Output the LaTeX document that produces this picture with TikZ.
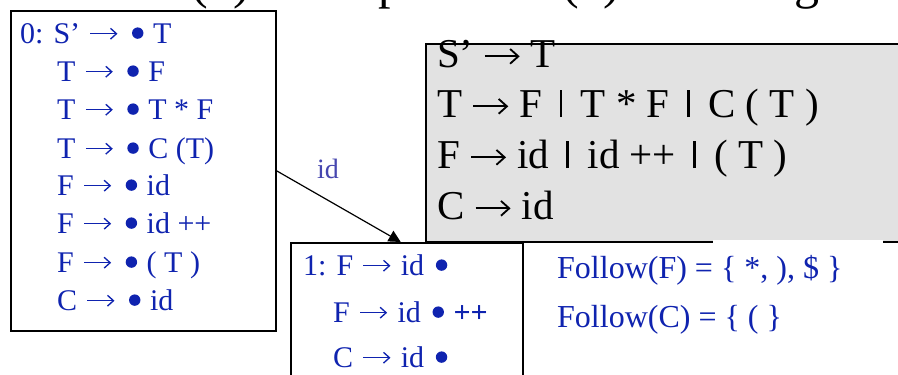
\documentclass[tikz,border=0pt]{standalone}
\usepackage{fontspec}
\setmainfont{Liberation Serif}
\usetikzlibrary{arrows.meta}
\definecolor{itemblue}{RGB}{15,35,175}
\definecolor{labblue}{RGB}{70,70,175}
\definecolor{gramgray}{RGB}{226,226,226}
\newcommand{\tarr}[3]{\hspace{#3}\tikz[baseline=0pt]\draw[line width=0.045em, -{Straight Barb[length=0.2em,width=0.36em]}] (0em,#1) -- (#2,#1);\hspace{#3}}
\newcommand{\arr}{\tarr{0.31em}{0.9em}{0.07em}}
\newcommand{\garr}{\tarr{0.26em}{0.85em}{0em}}
\newcommand{\dotb}{\hspace{0.14em}\tikz[baseline=0pt]\fill (0.19em,0.33em) circle (0.19em);\hspace{0.07em}}
\newcommand{\vbar}{\hspace{0.17em}\rule{0.07em}{0.66em}\hspace{0.2em}}
\tikzset{
  box/.style={draw=black, line width=1.5pt, inner sep=0pt, anchor=north west},
  item/.style={anchor=base west, inner sep=0pt, text=itemblue, font=\fontsize{30}{36}\selectfont},
  gram/.style={anchor=base west, inner sep=0pt, text=black, font=\fontsize{41}{48}\selectfont},
  follow/.style={anchor=base west, inner sep=0pt, text=itemblue, font=\fontsize{32}{38}\selectfont},
  edgelab/.style={anchor=base, inner sep=0pt, text=labblue, font=\fontsize{28}{32}\selectfont},
  trans/.style={line width=1.2pt, -{Triangle[width=12pt,length=12pt]}}
}
\begin{document}
\begin{tikzpicture}[x=1pt,y=-1pt]
\useasboundingbox (0,0) rectangle (898,375);
% title, cut off at the top edge as in the reference
\node[anchor=base west, inner sep=0pt, font=\fontsize{50}{55}\selectfont] (title) at (12,-2) {Not SLR(1) Example: SLR(1) Handling};
% boxes
\node[box, minimum width=265pt, minimum height=320pt] (state0) at (10,10) {};
\node[box, fill=gramgray, minimum width=480pt, minimum height=198pt] (grammar) at (425,43) {};
\node[box, minimum width=232pt, minimum height=150pt] (state1) at (290,242) {};
\fill[white] (713,239.6) rectangle (883,262);
% state 0 items
\node[item] (s0a) at (20,43) {0: S’ \arr{} \dotb{} T};
\node[item] (s0b) at (57,81) {T \arr{} \dotb{} F};
\node[item] (s0c) at (57,119) {T \arr{} \dotb{} T * F};
\node[item] (s0d) at (57,158) {T \arr{} \dotb{} C (T)};
\node[item] (s0e) at (57,195) {F \arr{} \dotb{} id};
\node[item] (s0f) at (57,233) {F \arr{} \dotb{} id ++};
\node[item] (s0g) at (57,272) {F \arr{} \dotb{} ( T )};
\node[item] (s0h) at (57,310) {C \arr{} \dotb{} id};
% grammar
\node[gram] (g1) at (437,67) {S’ \garr{} T};
\node[gram] (g2) at (437,117) {T \garr{} F \vbar{} T * F \vbar{} C ( T )};
\node[gram] (g3) at (437,168) {F \garr{} id \vbar{} id ++ \vbar{} ( T )};
\node[gram] (g4) at (437,219) {C \garr{} id};
% state 1 items
\node[item] (s1a) at (303,275) {1: F \arr{} id \dotb};
\node[item] (s1b) at (333,322) {F \arr{} id \dotb{} {\bfseries ++}};
\node[item] (s1c) at (333,367) {C \arr{} id \dotb};
% follow sets
\node[follow] (f1) at (557,278) {Follow(F) = \{ *, ), \$ \}};
\node[follow] (f2) at (557,327) {Follow(C) = \{ ( \}};
% transition
\draw[trans] (state0.east) -- ([xshift=-6pt]state1.north);
\node[edgelab] (idlab) at (328,178) {id};
\end{tikzpicture}
\end{document}
